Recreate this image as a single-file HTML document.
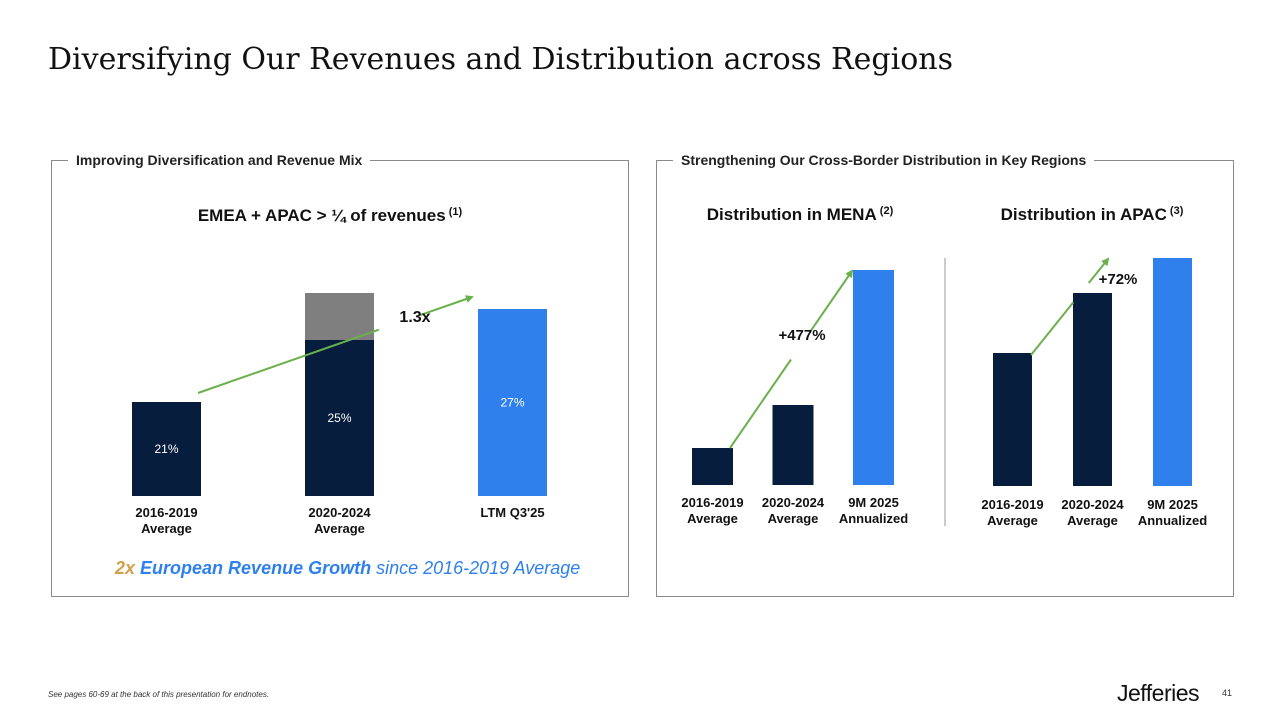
<!DOCTYPE html>
<html><head><meta charset="utf-8"><style>
body{margin:0;width:1280px;height:720px;background:#fff;position:relative;overflow:hidden;font-family:"Liberation Sans",Arial,sans-serif;color:#111}
.abs{position:absolute}
.panel{position:absolute;border:1px solid #8a8a8a}
.ptitle{position:absolute;top:-9px;background:#fff;padding:0 8px;font-weight:bold;font-size:14px;color:#222}
</style></head><body>
<div class="abs" style="left:48px;top:42px;font-family:'DejaVu Serif','Liberation Serif',serif;font-size:30px;color:#111">Diversifying Our Revenues and Distribution across Regions</div>
<div class="panel" style="left:51px;top:160px;width:576px;height:435px"><div class="ptitle" style="left:16px">Improving Diversification and Revenue Mix</div></div>
<div class="panel" style="left:656px;top:160px;width:576px;height:435px"><div class="ptitle" style="left:16px">Strengthening Our Cross-Border Distribution in Key Regions</div></div>
<svg class="abs" style="left:0;top:0" width="1280" height="720" id="chart">
<defs><marker id="ah" markerWidth="8" markerHeight="8" refX="6" refY="4" orient="auto" markerUnits="userSpaceOnUse"><path d="M0,0 L8,4 L0,8 Z" fill="#6ab04c"/></marker></defs>
<text x="330" y="221" text-anchor="middle" font-size="17" font-weight="bold" fill="#111">EMEA + APAC &gt; ¼ of revenues<tspan font-size="11" dy="-6"> (1)</tspan></text>
<text x="800" y="220" text-anchor="middle" font-size="17" font-weight="bold" fill="#111">Distribution in MENA<tspan font-size="11" dy="-6"> (2)</tspan></text>
<text x="1092" y="220" text-anchor="middle" font-size="17" font-weight="bold" fill="#111">Distribution in APAC<tspan font-size="11" dy="-6"> (3)</tspan></text>
<line x1="945" y1="258" x2="945" y2="526" stroke="#999" stroke-width="1"/>
<g id="g"></g>
<text x="115" y="574" font-size="18" font-style="italic" fill="#2f80ed"><tspan fill="#d4a04c" font-weight="bold">2x</tspan><tspan font-weight="bold"> European Revenue Growth</tspan> since 2016-2019 Average</text>
</svg>
<div class="abs" style="left:48px;top:690px;font-size:8px;font-style:italic;color:#333">See pages 60-69 at the back of this presentation for endnotes.</div>
<div class="abs" style="left:1117px;top:680px;font-size:23px;color:#111;letter-spacing:-0.5px">Jefferies</div>
<div class="abs" style="left:1222px;top:688px;font-size:9px;color:#333">41</div>
<script>
// Left chart
const mixCats=[["2016-2019","Average"],["2020-2024","Average"],["LTM Q3'25"]];
const mixValues=[21,25,27];
const mixHeights=[94,156,187];
const mixExtra=[0,47,0];
const mixLabels=["21%","25%","27%"];
const mixColors=["#071d3d","#071d3d","#2f80ed"];
// MENA
const menaCats=[["2016-2019","Average"],["2020-2024","Average"],["9M 2025","Annualized"]];
const menaValues=[37,80,215];
// APAC
const apacCats=[["2016-2019","Average"],["2020-2024","Average"],["9M 2025","Annualized"]];
const apacValues=[133,193,228];
const NS="http://www.w3.org/2000/svg";
const g=document.getElementById('g');
function mk(t,a){const e=document.createElementNS(NS,t);for(const k in a)e.setAttribute(k,a[k]);g.appendChild(e);return e;}
function txt(x,y,s,o){const e=mk('text',Object.assign({x:x,y:y,'text-anchor':'middle','font-size':13,'font-weight':'bold',fill:'#111'},o||{}));e.textContent=s;return e;}
const lx=i=>132+i*173, lw=69, lb=496, ly=v=>lb-v;
mixHeights.forEach((h,i)=>{
 const r=mk('rect',{x:lx(i),y:ly(h),width:lw,height:h,fill:mixColors[i]});
 
 
 if(mixExtra[i]){const r2=mk('rect',{x:lx(i),y:ly(h+mixExtra[i]),width:lw,height:mixExtra[i],fill:'#7f7f7f'});
  
  }
 const t=txt(lx(i)+lw/2,ly(h/2)+4,mixLabels[i],{'font-weight':'normal',fill:'#fff','font-size':12});
 
 
 mixCats[i].forEach((s,j)=>{const c=txt(lx(i)+lw/2,517+j*16,s);
  
  });
});
function arrow(x1,y1,x2,y2,gap0,gap1,name){
 const dx=x2-x1,dy=y2-y1;
 const a=mk('line',{x1:x1,y1:y1,x2:x1+dx*gap0,y2:y1+dy*gap0,stroke:'#6ab04c','stroke-width':2});
 
 
 const b=mk('line',{x1:x1+dx*gap1,y1:y1+dy*gap1,x2:x2,y2:y2,stroke:'#6ab04c','stroke-width':2,'marker-end':'url(#ah)'});
 
 
}
arrow(198,393,472,297,0.66,0.81,'mix-growth');
const l1=txt(415,322,'1.3x',{'font-size':16});


function small(cats,vals,x0,step,w,base,colors,pfx,labY){
 vals.forEach((v,i)=>{
  const r=mk('rect',{x:x0+i*step,y:base-v,width:w,height:v,fill:colors[i]});
  
  
  cats[i].forEach((s,j)=>{const c=txt(x0+i*step+w/2,labY+j*16,s);
   
   });
 });
}
small(menaCats,menaValues,692,80.5,41,485,["#071d3d","#071d3d","#2f80ed"],'mena',507);
small(apacCats,apacValues,993,80,39,486,["#071d3d","#071d3d","#2f80ed"],'apac',509);
arrow(730,448,852,271,0.50,0.65,'mena-growth');
const l2=txt(802,340,'+477%',{'font-size':15});


arrow(1031,355,1108,259,0.55,0.75,'apac-growth');
const l3=txt(1118,284,'+72%',{'font-size':15});


</script>
</body></html>
